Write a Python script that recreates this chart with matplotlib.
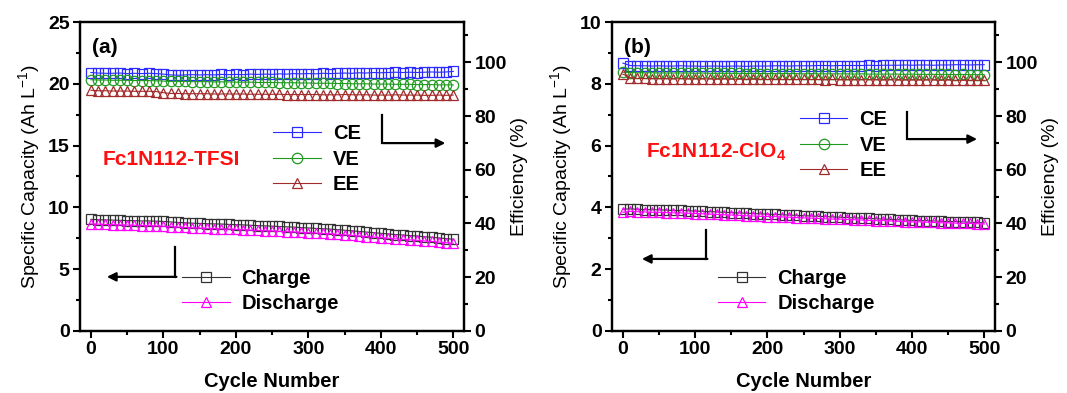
import matplotlib
matplotlib.use("Agg")
import matplotlib.pyplot as plt
from matplotlib.ticker import MultipleLocator

plt.rcParams['font.family'] = ['Liberation Sans', 'DejaVu Sans']
plt.rcParams['mathtext.default'] = 'regular'

cycles = list(range(0, 501, 10))

# (a) Fc1N112-TFSI
charge_a = [9.03, 9.00, 8.98, 8.97, 8.95, 8.93, 8.92, 8.90, 8.90, 8.88,
            8.86, 8.82, 8.78, 8.75, 8.72, 8.70, 8.68, 8.66, 8.65, 8.62,
            8.60, 8.58, 8.55, 8.52, 8.50, 8.48, 8.45, 8.42, 8.40, 8.36,
            8.33, 8.30, 8.27, 8.24, 8.20, 8.15, 8.10, 8.05, 8.00, 7.95,
            7.90, 7.85, 7.80, 7.76, 7.72, 7.68, 7.62, 7.58, 7.52, 7.47, 7.42]
discharge_a = [8.66, 8.64, 8.62, 8.60, 8.58, 8.57, 8.55, 8.53, 8.52, 8.50,
               8.47, 8.44, 8.40, 8.37, 8.34, 8.32, 8.30, 8.28, 8.26, 8.24,
               8.22, 8.19, 8.16, 8.13, 8.11, 8.09, 8.06, 8.03, 8.01, 7.98,
               7.95, 7.92, 7.89, 7.86, 7.82, 7.78, 7.73, 7.68, 7.63, 7.59,
               7.55, 7.50, 7.45, 7.41, 7.37, 7.33, 7.28, 7.24, 7.19, 7.14, 7.10]
ce_a = [96.2, 96.0, 95.9, 95.9, 96.0, 95.8, 95.9, 95.8, 95.9, 95.8,
        95.6, 95.3, 95.2, 95.3, 95.4, 95.3, 95.4, 95.3, 95.5, 95.4,
        95.5, 95.4, 95.6, 95.5, 95.6, 95.5, 95.7, 95.6, 95.8, 95.7,
        95.8, 95.7, 95.9, 95.8, 95.9, 96.0, 95.9, 96.1, 96.0, 96.2,
        96.1, 96.2, 96.3, 96.2, 96.3, 96.2, 96.3, 96.4, 96.3, 96.4, 96.6]
ve_a = [93.5, 93.4, 93.4, 93.3, 93.3, 93.3, 93.2, 93.2, 93.2, 93.1,
        93.0, 92.9, 92.9, 92.9, 92.8, 92.8, 92.8, 92.7, 92.7, 92.7,
        92.6, 92.6, 92.6, 92.5, 92.5, 92.5, 92.4, 92.4, 92.4, 92.3,
        92.3, 92.2, 92.2, 92.2, 92.1, 92.1, 92.0, 92.0, 92.0, 91.9,
        91.9, 91.9, 91.8, 91.8, 91.8, 91.7, 91.7, 91.7, 91.6, 91.6, 91.6]
ee_a = [89.6, 89.4, 89.4, 89.3, 89.3, 89.3, 89.2, 89.2, 89.2, 89.1,
        88.7, 88.4, 88.4, 88.3, 88.3, 88.3, 88.3, 88.2, 88.2, 88.2,
        88.2, 88.2, 88.1, 88.1, 88.1, 88.1, 88.1, 88.0, 88.0, 88.0,
        88.0, 88.0, 87.9, 87.9, 87.9, 88.0, 87.9, 87.9, 87.9, 87.8,
        87.8, 87.8, 87.9, 87.8, 87.8, 87.8, 87.7, 87.7, 87.8, 87.7, 87.8]

# (b) Fc1N112-ClO4
charge_b = [3.94, 3.95, 3.94, 3.93, 3.92, 3.92, 3.91, 3.90, 3.90, 3.89,
            3.88, 3.87, 3.86, 3.85, 3.84, 3.83, 3.82, 3.81, 3.80, 3.79,
            3.78, 3.77, 3.76, 3.75, 3.74, 3.73, 3.72, 3.71, 3.70, 3.69,
            3.68, 3.67, 3.66, 3.65, 3.64, 3.63, 3.62, 3.61, 3.60, 3.59,
            3.58, 3.57, 3.57, 3.56, 3.55, 3.54, 3.54, 3.53, 3.52, 3.51, 3.50]
discharge_b = [3.84, 3.87, 3.86, 3.85, 3.84, 3.84, 3.83, 3.82, 3.82, 3.81,
               3.80, 3.79, 3.78, 3.77, 3.76, 3.75, 3.74, 3.73, 3.72, 3.71,
               3.70, 3.70, 3.69, 3.68, 3.67, 3.66, 3.65, 3.64, 3.63, 3.62,
               3.62, 3.61, 3.60, 3.59, 3.58, 3.57, 3.57, 3.56, 3.55, 3.54,
               3.53, 3.53, 3.52, 3.51, 3.50, 3.50, 3.49, 3.48, 3.48, 3.47, 3.46]
ce_b = [99.7, 98.8, 98.7, 98.7, 98.6, 98.7, 98.6, 98.6, 98.7, 98.6,
        98.6, 98.5, 98.6, 98.6, 98.5, 98.6, 98.6, 98.5, 98.6, 98.6,
        98.6, 98.7, 98.7, 98.6, 98.7, 98.7, 98.7, 98.8, 98.8, 98.7,
        98.8, 98.8, 98.8, 98.8, 98.9, 98.8, 98.9, 98.9, 98.9, 99.0,
        98.9, 99.0, 99.0, 98.9, 99.0, 99.0, 99.1, 99.1, 99.0, 99.1, 99.1]
ve_b = [96.3, 96.2, 96.1, 96.1, 96.1, 96.0, 96.0, 96.0, 96.0, 96.0,
        95.9, 96.0, 95.9, 95.9, 95.9, 95.9, 95.9, 95.8, 95.9, 95.8,
        95.8, 95.8, 95.8, 95.8, 95.8, 95.7, 95.8, 95.7, 95.7, 95.7,
        95.7, 95.7, 95.6, 95.7, 95.6, 95.6, 95.6, 95.6, 95.6, 95.5,
        95.6, 95.5, 95.5, 95.5, 95.5, 95.5, 95.4, 95.5, 95.4, 95.4, 95.4]
ee_b = [95.6, 94.3, 94.0, 94.0, 93.9, 93.9, 93.9, 93.8, 93.9, 93.8,
        93.8, 93.8, 93.8, 93.7, 93.8, 93.7, 93.7, 93.7, 93.7, 93.7,
        93.6, 93.7, 93.6, 93.6, 93.6, 93.6, 93.6, 93.6, 93.5, 93.6,
        93.5, 93.5, 93.5, 93.5, 93.5, 93.5, 93.4, 93.5, 93.4, 93.4,
        93.4, 93.4, 93.4, 93.4, 93.3, 93.4, 93.3, 93.3, 93.3, 93.3, 93.3]

C_CE = '#2b2bff'
C_VE = '#1f9a1f'
C_EE = '#a32a2a'
C_CH = '#333333'
C_DC = '#ff00ff'

fig = plt.figure(figsize=(10.67, 3.93), dpi=100)


def style_axis(ax):
    for s in ax.spines.values():
        s.set_linewidth(1.6)
    ax.tick_params(which='major', direction='out', length=5, width=1.5,
                   labelsize=14, pad=2.5)
    ax.tick_params(which='minor', direction='out', length=3, width=1.5)
    for lab in ax.get_xticklabels() + ax.get_yticklabels():
        lab.set_fontweight('bold')


def arrow(ax, x0, y0, y1, x1):
    ax.plot([x0, x0], [y0, y1], color='black', lw=1.6, transform=ax.transAxes,
            clip_on=False)
    ax.annotate('', xy=(x1, y1), xytext=(x0 + 0.004, y1), xycoords='axes fraction',
                arrowprops=dict(arrowstyle='-|>', color='black', lw=1.6,
                                mutation_scale=13, shrinkA=0, shrinkB=0))


def panel(rect, charge, discharge, ce, ve, ee, ymax, ystep, tag, name,
          name_xy, leg1, leg2, arr_r, arr_l):
    ax = fig.add_axes(rect)
    ms = 6.5
    l1, = ax.plot(cycles, charge, color=C_CH, marker='s', ms=ms, mfc='none',
                  mew=0.9, lw=0.8, label='Charge')
    l2, = ax.plot(cycles, discharge, color=C_DC, marker='^', ms=ms + 1, mfc='none',
                  mew=0.9, lw=0.8, label='Discharge')
    ax.set_xlim(-15, 515)
    ax.set_ylim(0, ymax)
    ax.xaxis.set_major_locator(MultipleLocator(100))
    ax.xaxis.set_minor_locator(MultipleLocator(50))
    ax.yaxis.set_major_locator(MultipleLocator(ystep))
    ax.yaxis.set_minor_locator(MultipleLocator(ystep / 2))
    ax.set_xlabel('Cycle Number', fontsize=14.5, fontweight='bold', labelpad=10)
    ax.set_ylabel(r'Specific Capacity (Ah L$^{-1}$)', fontsize=14, labelpad=4)

    ax2 = ax.twinx()
    l3, = ax2.plot(cycles, ce, color=C_CE, marker='s', ms=ms, mfc='none',
                   mew=0.9, lw=0.8, label='CE')
    l4, = ax2.plot(cycles, ve, color=C_VE, marker='o', ms=ms + 1, mfc='none',
                   mew=0.9, lw=0.8, label='VE')
    l5, = ax2.plot(cycles, ee, color=C_EE, marker='^', ms=ms + 1, mfc='none',
                   mew=0.9, lw=0.8, label='EE')
    ax2.set_ylim(0, 115)
    ax2.yaxis.set_major_locator(MultipleLocator(20))
    ax2.yaxis.set_minor_locator(MultipleLocator(10))
    ax2.set_ylabel('Efficiency (%)', fontsize=14, labelpad=3)
    style_axis(ax)
    style_axis(ax2)
    ax.tick_params(axis='x', which='both', top=False)

    leg_kw = dict(loc='upper left', frameon=False, borderpad=0, borderaxespad=0,
                  handlelength=2.35, handletextpad=0.6, labelspacing=0.33,
                  prop={'weight': 'bold', 'size': 14.5})
    lg1 = ax2.legend(handles=[l3, l4, l5], bbox_to_anchor=leg1, **leg_kw)
    ax2.add_artist(lg1)
    ax2.legend(handles=[l1, l2], bbox_to_anchor=leg2, **leg_kw)

    ax2.text(0.031, 0.919, tag, transform=ax.transAxes, fontsize=15,
             fontweight='bold', va='center', ha='left')
    ax2.text(name_xy[0], name_xy[1], name, transform=ax.transAxes, fontsize=15,
             fontweight='bold', color='#ff1010', va='center', ha='left')
    arrow(ax2, *arr_r)
    arrow(ax2, *arr_l)


panel([0.075, 0.158, 0.360, 0.786], charge_a, discharge_a, ce_a, ve_a, ee_a,
      25, 5, '(a)', 'Fc1N112-TFSI', (0.060, 0.555),
      (0.503, 0.670), (0.266, 0.201),
      (0.786, 0.699, 0.608, 0.951), (0.247, 0.272, 0.175, 0.070))
panel([0.5736, 0.158, 0.359, 0.786], charge_b, discharge_b, ce_b, ve_b, ee_b,
      10, 2, '(b)', r'Fc1N112-ClO$_4$', (0.089, 0.579),
      (0.491, 0.715), (0.277, 0.201),
      (0.770, 0.709, 0.621, 0.953), (0.245, 0.327, 0.233, 0.078))

fig.savefig('out.png', dpi=100)
